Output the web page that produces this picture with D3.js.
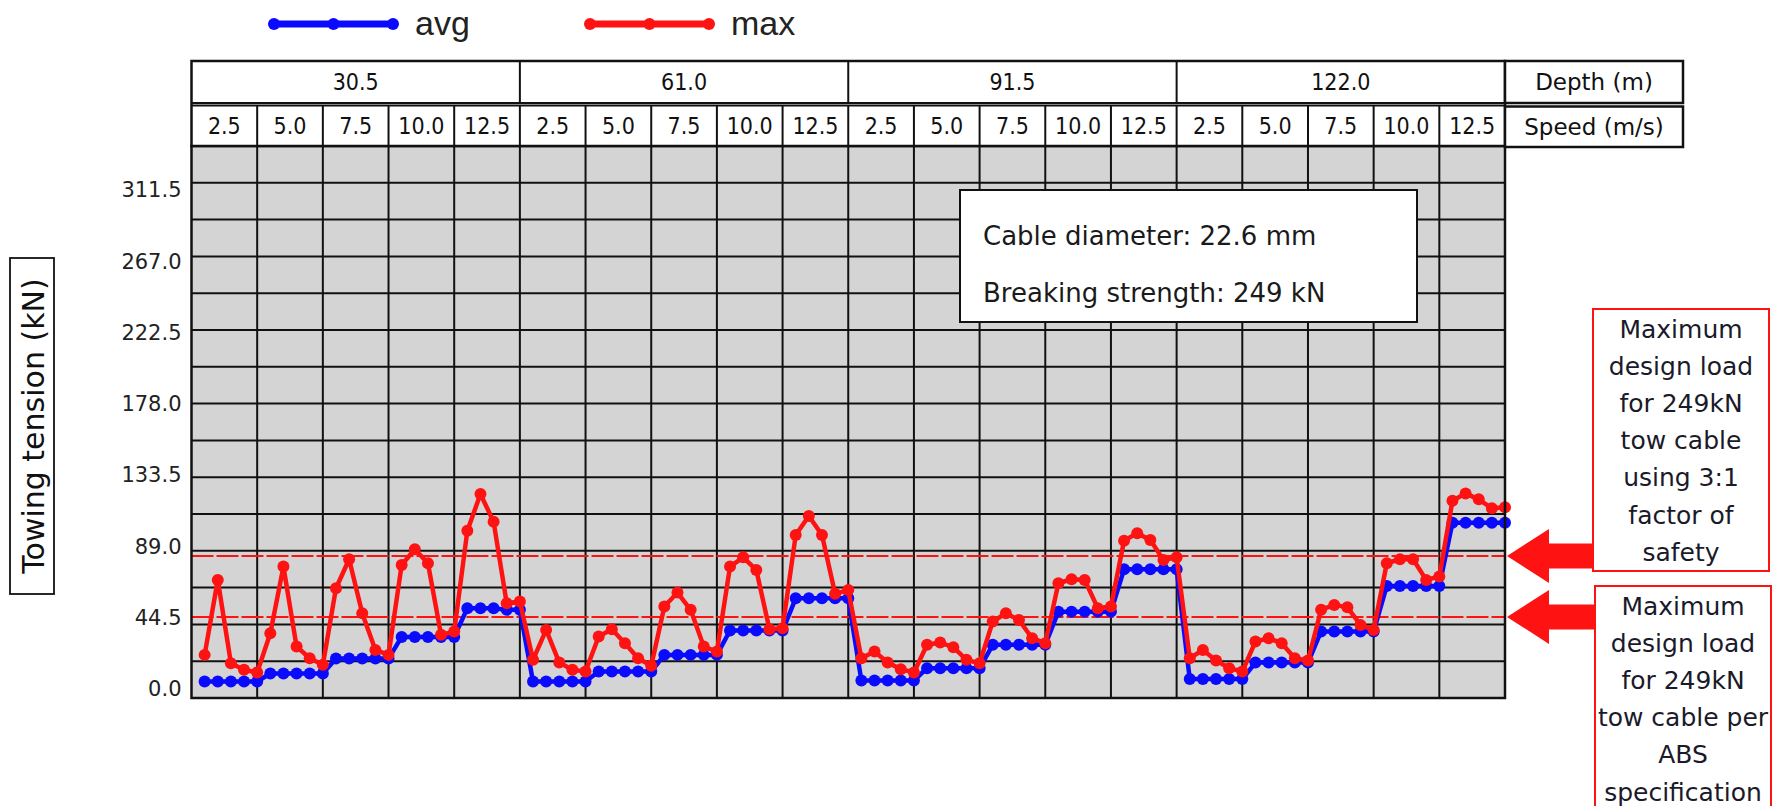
<!DOCTYPE html>
<html>
<head>
<meta charset="utf-8">
<script src="https://cdn.jsdelivr.net/npm/d3@7"></script>
<style>
  body { margin: 0; background: #fff; }
</style>
</head>
<body>
<svg id="chart" width="1785" height="806"></svg>
<script>
// Towing tension vs depth / speed, avg and max per run

var depths = ["30.5", "61.0", "91.5", "122.0"];
var speeds = ["2.5", "5.0", "7.5", "10.0", "12.5"];
var yTicks = [0, 44.5, 89, 133.5, 178, 222.5, 267, 311.5];

// 5 readings per speed cell, 25 per depth
var avgTension = [
    4.7, 4.7, 4.7, 4.7, 4.7,  9.7, 9.7, 9.7, 9.7, 9.7,  19.0, 19.0, 19.0, 19.0, 19.0,  32.5, 32.5, 32.5, 32.5, 32.5,  50.4, 50.4, 50.4, 49.4, 49.4,
    4.7, 4.7, 4.7, 4.7, 4.7,  10.9, 10.9, 10.9, 10.9, 10.9,  21.3, 21.3, 21.3, 21.3, 21.3,  36.5, 36.5, 36.5, 36.5, 36.5,  56.6, 56.6, 56.6, 56.6, 56.6,
    5.3, 5.3, 5.3, 5.3, 5.3,  13.0, 13.0, 13.0, 13.0, 13.0,  27.6, 27.6, 27.6, 27.6, 27.6,  48.3, 48.3, 48.3, 48.3, 48.3,  74.7, 74.7, 74.7, 74.7, 74.7,
    6.2, 6.2, 6.2, 6.2, 6.2,  16.5, 16.5, 16.5, 16.5, 16.5,  35.9, 35.9, 35.9, 35.9, 35.9,  64.3, 64.3, 64.3, 64.3, 64.3,  103.8, 103.8, 103.8, 103.8, 103.8
];
var maxTension = [
    21.3, 68.1, 16.1, 12.0, 10.3,  34.8, 76.4, 26.5, 19.2, 15.1,  62.9, 81.0, 47.3, 24.4, 21.3,  77.4, 87.2, 78.5, 33.8, 35.9,  98.8, 121.7, 104.4, 53.5, 54.6,
    18.2, 36.9, 16.5, 12.0, 10.9,  32.8, 37.3, 28.6, 19.2, 14.5,  51.5, 60.2, 49.4, 26.5, 23.4,  76.4, 82.2, 74.3, 37.3, 37.9,  96.1, 108.0, 96.1, 59.4, 61.8,
    19.2, 23.4, 16.5, 12.4, 10.3,  27.6, 29.0, 26.1, 18.2, 16.1,  42.1, 47.3, 43.1, 31.7, 28.6,  66.0, 68.5, 68.1, 50.4, 51.5,  92.6, 97.2, 93.0, 80.5, 82.2,
    19.2, 24.4, 17.8, 13.0, 10.9,  29.6, 31.7, 28.6, 19.2, 17.8,  49.4, 52.5, 51.0, 40.0, 36.9,  78.5, 81.0, 81.0, 68.1, 70.2,  117.5, 122.1, 118.4, 112.8, 113.4
];

var designLoads = [83, 45];   // 249/3 and ABS
var seriesNames = ["avg", "max"];
var cableInfo = ["Cable diameter: 22.6 mm", "Breaking strength: 249 kN"];
var noteSafety = ["Maximum", "design load", "for 249kN", "tow cable", "using 3:1", "factor of", "safety"];
var noteAbs = ["Maximum", "design load", "for 249kN", "tow cable per", "ABS", "specification"];

var BLUE = "#0a0aff", RED = "#ff1212";
var UI = "'DejaVu Sans', sans-serif";
var NARROW = "'Liberation Sans Narrow', 'DejaVu Sans Condensed', sans-serif";

var plot = { left: 191.5, right: 1505, top: 146, bottom: 698 };
var head = { top: 61, mid1: 103, mid2: 105.5 };

var svg = d3.select("#chart");

var cols = [];
depths.forEach(function(d) {
    speeds.forEach(function(s) { cols.push({ depth: d, speed: s }); });
});

var colX = d3.scaleBand().domain(d3.range(cols.length)).range([plot.left, plot.right]);
var groupX = d3.scaleBand().domain(depths).range([plot.left, plot.right]);
var px = d3.scaleLinear().domain([0, avgTension.length]).range([plot.left, plot.right]);
var y = d3.scaleLinear().domain([0, 311.5]).range([689, 190]);
var rows = d3.scaleLinear().domain([0, 15]).range([plot.bottom, plot.top]);

// plot background + table grid
svg.append("rect")
    .attr("x", plot.left).attr("y", plot.top)
    .attr("width", plot.right - plot.left).attr("height", plot.bottom - plot.top)
    .attr("fill", "#d4d4d4");

var grid = svg.append("g").attr("stroke", "#111").attr("stroke-width", 2);
grid.selectAll("line.h")
    .data(d3.range(1, 15))
    .enter().append("line")
    .attr("x1", plot.left).attr("x2", plot.right)
    .attr("y1", function(d) { return rows(d); })
    .attr("y2", function(d) { return rows(d); });
grid.selectAll("line.v")
    .data(d3.range(1, cols.length))
    .enter().append("line")
    .attr("y1", plot.top).attr("y2", plot.bottom)
    .attr("x1", function(d) { return colX(d); })
    .attr("x2", function(d) { return colX(d); });

// design load lines
svg.append("g").selectAll("line")
    .data(designLoads)
    .enter().append("line")
    .attr("x1", plot.left).attr("x2", plot.right)
    .attr("y1", function(d) { return y(d); })
    .attr("y2", function(d) { return y(d); })
    .attr("stroke", RED).attr("stroke-width", 2)
    .attr("stroke-dasharray", "22,3");

// series
var line = d3.line()
    .x(function(d, i) { return px(i + 1); })
    .y(function(d) { return y(d); });

[[avgTension, BLUE], [maxTension, RED]].forEach(function(s) {
    var g = svg.append("g");
    g.append("path")
        .datum(s[0])
        .attr("d", line)
        .attr("fill", "none")
        .attr("stroke", s[1])
        .attr("stroke-width", 4.5)
        .attr("stroke-linejoin", "round");
    g.selectAll("circle")
        .data(s[0])
        .enter().append("circle")
        .attr("cx", function(d, i) { return px(i + 1); })
        .attr("cy", function(d) { return y(d); })
        .attr("r", 6)
        .attr("fill", s[1]);
});

svg.append("rect")
    .attr("x", plot.left).attr("y", plot.top)
    .attr("width", plot.right - plot.left).attr("height", plot.bottom - plot.top)
    .attr("fill", "none").attr("stroke", "#111").attr("stroke-width", 2.5);

// header table
var hdr = svg.append("g");
hdr.append("rect")
    .attr("x", plot.left).attr("y", head.top)
    .attr("width", plot.right - plot.left).attr("height", plot.top - head.top)
    .attr("fill", "#fff").attr("stroke", "#111").attr("stroke-width", 2.5);
hdr.selectAll("line.rowsep")
    .data([head.mid1, head.mid2])
    .enter().append("line")
    .attr("x1", plot.left).attr("x2", plot.right)
    .attr("y1", function(d) { return d; }).attr("y2", function(d) { return d; })
    .attr("stroke", "#111").attr("stroke-width", 2);
hdr.selectAll("line.gsep")
    .data(depths.slice(1))
    .enter().append("line")
    .attr("x1", function(d) { return groupX(d); }).attr("x2", function(d) { return groupX(d); })
    .attr("y1", head.top).attr("y2", head.mid1)
    .attr("stroke", "#111").attr("stroke-width", 2);
hdr.selectAll("line.csep")
    .data(d3.range(1, cols.length))
    .enter().append("line")
    .attr("x1", function(d) { return colX(d); }).attr("x2", function(d) { return colX(d); })
    .attr("y1", head.mid2).attr("y2", plot.top)
    .attr("stroke", "#111").attr("stroke-width", 2);
hdr.selectAll("text.depth")
    .data(depths)
    .enter().append("text")
    .attr("x", function(d) { return groupX(d) + groupX.bandwidth() / 2; })
    .attr("y", (head.top + head.mid1) / 2)
    .attr("text-anchor", "middle").attr("dominant-baseline", "central")
    .attr("font-family", NARROW).attr("font-size", 23).attr("fill", "#111")
    .text(function(d) { return d; });
hdr.selectAll("text.speed")
    .data(cols)
    .enter().append("text")
    .attr("x", function(d, i) { return colX(i) + colX.bandwidth() / 2; })
    .attr("y", (head.mid2 + plot.top) / 2)
    .attr("text-anchor", "middle").attr("dominant-baseline", "central")
    .attr("font-family", NARROW).attr("font-size", 23).attr("fill", "#111")
    .text(function(d) { return d.speed; });

// side header cells
var side = [["Depth (m)", head.top, head.mid1], ["Speed (m/s)", head.mid2 + 1, plot.top + 1]];
var sideG = svg.append("g");
sideG.selectAll("rect")
    .data(side)
    .enter().append("rect")
    .attr("x", plot.right).attr("y", function(d) { return d[1]; })
    .attr("width", 178).attr("height", function(d) { return d[2] - d[1]; })
    .attr("fill", "#fff").attr("stroke", "#111").attr("stroke-width", 2.5);
sideG.selectAll("text")
    .data(side)
    .enter().append("text")
    .attr("x", plot.right + 89).attr("y", function(d) { return (d[1] + d[2]) / 2; })
    .attr("text-anchor", "middle").attr("dominant-baseline", "central")
    .attr("font-family", UI).attr("font-size", 23).attr("fill", "#111")
    .text(function(d) { return d[0]; });

// y axis labels
svg.append("g")
    .attr("transform", "translate(" + plot.left + ",0)")
    .call(d3.axisLeft(y).tickValues(yTicks).tickFormat(d3.format(".1f")).tickSize(0).tickPadding(10))
    .call(function(g) { g.select(".domain").remove(); })
    .attr("font-family", UI).attr("font-size", 21)
    .selectAll("text").attr("fill", "#222");

// y title in a box
svg.append("rect")
    .attr("x", 10).attr("y", 258).attr("width", 44).attr("height", 336)
    .attr("fill", "none").attr("stroke", "#111").attr("stroke-width", 1.8);
svg.append("text")
    .attr("transform", "translate(33,426) rotate(-90)")
    .attr("text-anchor", "middle").attr("dominant-baseline", "central")
    .attr("font-family", UI).attr("font-size", 30).attr("fill", "#111")
    .text("Towing tension (kN)");

// cable info box
var info = svg.append("g");
info.append("rect")
    .attr("x", 960).attr("y", 190).attr("width", 457).attr("height", 132)
    .attr("fill", "#fff").attr("stroke", "#111").attr("stroke-width", 2);
info.selectAll("text")
    .data(cableInfo)
    .enter().append("text")
    .attr("x", 983).attr("y", function(d, i) { return 245 + i * 56.5; })
    .attr("font-family", UI).attr("font-size", 26).attr("fill", "#1a1a1a")
    .text(function(d) { return d; });

// legend
var legend = svg.append("g");
var legendX = d3.scalePoint().domain(seriesNames).range([274, 590]);
var legendCol = { avg: BLUE, max: RED };
seriesNames.forEach(function(name) {
    var x0 = legendX(name);
    legend.append("line")
        .attr("x1", x0).attr("x2", x0 + 119).attr("y1", 24).attr("y2", 24)
        .attr("stroke", legendCol[name]).attr("stroke-width", 7);
    legend.selectAll("circle." + name)
        .data([0, 0.5, 1])
        .enter().append("circle")
        .attr("cx", function(d) { return x0 + d * 119; })
        .attr("cy", 24).attr("r", 6)
        .attr("fill", legendCol[name]);
    legend.append("text")
        .attr("x", x0 + 141).attr("y", 35)
        .attr("font-family", "'Liberation Sans', Arial, sans-serif")
        .attr("font-size", 34).attr("fill", "#222")
        .text(name);
});

// arrows + notes
var notes = [
    { load: designLoads[0], lines: noteSafety, box: [1593, 309, 176, 262], firstY: 329.5 },
    { load: designLoads[1], lines: noteAbs, box: [1595, 586, 176, 260], firstY: 606.5 }
];
notes.forEach(function(n) {
    var ty = y(n.load), tip = plot.right + 2, back = tip + 42, end = n.box[0];
    svg.append("path")
        .attr("d", "M" + tip + "," + ty +
            "L" + back + "," + (ty - 27) +
            "L" + back + "," + (ty - 12.5) +
            "L" + end + "," + (ty - 12.5) +
            "L" + end + "," + (ty + 12.5) +
            "L" + back + "," + (ty + 12.5) +
            "L" + back + "," + (ty + 27) + "Z")
        .attr("fill", RED);
    svg.append("rect")
        .attr("x", n.box[0]).attr("y", n.box[1]).attr("width", n.box[2]).attr("height", n.box[3])
        .attr("fill", "#fff").attr("stroke", RED).attr("stroke-width", 2);
    svg.append("g").selectAll("text")
        .data(n.lines)
        .enter().append("text")
        .attr("x", n.box[0] + n.box[2] / 2)
        .attr("y", function(d, i) { return n.firstY + i * 37.1; })
        .attr("text-anchor", "middle").attr("dominant-baseline", "central")
        .attr("font-family", UI).attr("font-size", 25).attr("fill", "#1a1a2a")
        .text(function(d) { return d; });
});
</script>
</body>
</html>
